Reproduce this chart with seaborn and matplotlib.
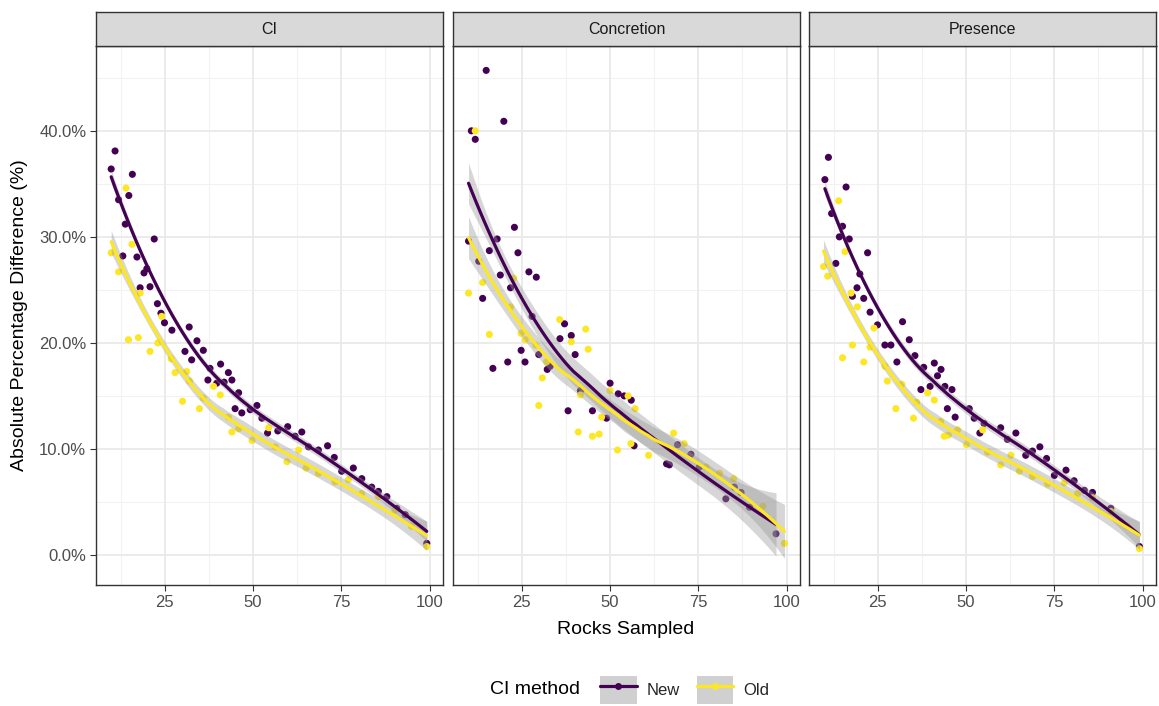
import numpy as np
import pandas as pd
import matplotlib
matplotlib.use("Agg")
import matplotlib.pyplot as plt
import seaborn as sns
from matplotlib.patches import Patch
from matplotlib.lines import Line2D
from matplotlib.legend_handler import HandlerTuple
from matplotlib.ticker import FuncFormatter, FixedLocator

# ---------------- data ----------------
facets = ["CI", "Concretion", "Presence"]
methods = ["New", "Old"]

ci_new_x = [9.8, 10.9, 11.9, 13.1, 13.8, 14.8, 15.8, 17.1, 18.0, 19.1, 19.9, 20.8, 22.0, 22.9, 23.9, 24.9,
            27.0, 30.7, 31.9, 32.6, 34.1, 35.9, 37.2, 37.8, 39.7, 40.8, 41.8, 43.0, 44.0, 44.9, 45.9, 46.8,
            49.2, 51.1, 52.5, 54.1, 57.0, 59.8, 61.9, 63.8, 65.7, 68.5, 71.1, 73.0, 75.1, 78.4, 80.8, 83.6,
            85.5, 87.9, 90.7, 93.1, 99.2]
ci_new_y = [36.4, 38.1, 33.5, 28.2, 31.2, 33.9, 35.9, 28.1, 25.2, 26.6, 27.0, 25.3, 29.8, 23.7, 22.8, 21.9,
            21.2, 19.2, 21.5, 18.4, 20.2, 19.3, 16.5, 17.6, 16.2, 18.0, 16.3, 17.2, 16.5, 13.8, 15.3, 13.4,
            13.7, 14.1, 12.9, 11.5, 11.7, 12.1, 11.2, 11.6, 10.2, 9.9, 10.3, 9.2, 7.9, 8.2, 7.2, 6.4,
            6.0, 5.5, 4.4, 3.8, 1.1]
ci_old_x = [9.8, 11.9, 14.0, 14.7, 15.7, 17.5, 18.0, 20.8, 23.0, 24.1, 26.8, 27.9, 30.0, 31.2, 32.0, 34.8,
            35.9, 38.8, 40.7, 43.0, 44.0, 45.9, 49.7, 54.4, 56.3, 59.6, 62.9, 65.0, 68.5, 73.2, 77.0, 80.8,
            85.5, 90.2, 94.9, 99.2]
ci_old_y = [28.5, 26.7, 34.6, 20.3, 29.3, 20.5, 24.7, 19.2, 20.0, 22.5, 18.5, 17.2, 14.5, 17.3, 16.4, 13.8,
            14.8, 15.9, 15.1, 13.0, 11.6, 11.9, 10.8, 12.0, 10.2, 8.8, 9.9, 8.2, 7.7, 6.9, 7.1, 5.8,
            5.5, 4.2, 2.7, 0.8]

con_new_x = [9.9, 10.7, 11.8, 12.8, 13.9, 14.9, 15.8, 16.8, 18.0, 18.9, 19.9, 21.0, 21.8, 22.9, 23.9, 24.8,
             25.9, 27.0, 27.9, 29.1, 29.8, 32.2, 33.0, 35.8, 37.1, 38.1, 39.0, 40.1, 41.6, 45.0, 49.0, 50.0,
             52.3, 54.0, 56.0, 56.8, 66.0, 66.8, 69.1, 72.9, 75.3, 82.8, 85.2, 87.1, 89.5, 97.0]
con_new_y = [29.6, 40.0, 39.2, 27.7, 24.2, 45.7, 28.7, 17.6, 29.8, 26.4, 40.9, 18.2, 25.2, 30.9, 28.5, 19.3,
             18.2, 26.7, 22.5, 26.2, 18.9, 17.5, 17.8, 20.4, 21.8, 13.6, 20.7, 18.9, 15.5, 13.6, 12.9, 16.2,
             15.2, 15.0, 14.6, 10.3, 8.6, 8.5, 10.4, 9.5, 8.3, 5.3, 6.4, 5.9, 4.5, 2.0]
con_old_x = [9.9, 11.8, 13.9, 15.8, 21.8, 22.7, 24.8, 26.0, 28.9, 29.8, 30.8, 32.0, 35.7, 39.0, 41.0, 41.6,
             43.1, 43.8, 45.0, 46.9, 47.6, 50.0, 52.1, 55.1, 55.9, 57.1, 60.9, 68.0, 71.0, 77.2, 81.0, 85.0,
             93.3, 99.4]
con_old_y = [24.7, 40.0, 25.7, 20.8, 23.4, 26.1, 20.9, 20.3, 19.8, 14.1, 16.7, 18.2, 22.2, 20.1, 11.6, 15.1,
             21.3, 19.4, 11.2, 11.4, 13.0, 15.5, 9.9, 15.0, 10.5, 13.8, 9.4, 11.5, 10.5, 8.3, 7.7, 7.2,
             4.6, 1.1]

pre_new_x = [10.0, 11.0, 11.9, 13.1, 14.1, 15.0, 16.0, 16.9, 17.8, 19.1, 19.9, 21.0, 22.1, 22.8, 24.9, 27.0,
             28.7, 30.4, 32.0, 33.9, 35.5, 37.2, 38.0, 39.8, 41.0, 41.9, 42.9, 44.0, 44.7, 46.0, 46.9, 50.9,
             52.3, 53.9, 55.1, 59.8, 61.7, 64.1, 66.9, 68.8, 70.9, 72.8, 75.0, 78.3, 80.6, 83.5, 85.8, 91.0,
             99.1]
pre_new_y = [35.4, 37.5, 32.2, 27.5, 30.0, 31.0, 34.7, 29.8, 24.4, 25.2, 26.5, 24.2, 28.5, 22.9, 21.7, 19.8,
             19.8, 18.2, 22.0, 20.3, 18.8, 15.6, 17.7, 15.9, 18.1, 16.9, 17.5, 15.9, 13.8, 15.6, 13.0, 13.8,
             12.9, 11.5, 12.4, 12.0, 10.9, 11.5, 9.4, 9.8, 10.2, 9.1, 7.5, 8.0, 7.0, 6.1, 5.9, 4.4,
             0.8]
pre_old_x = [9.6, 10.8, 13.9, 15.0, 15.7, 17.4, 17.8, 19.2, 21.0, 22.8, 23.9, 27.0, 27.7, 30.1, 31.8, 35.1,
             36.0, 39.1, 41.0, 42.8, 43.8, 45.0, 47.6, 50.1, 54.7, 56.1, 59.8, 62.7, 65.1, 68.8, 73.1, 77.8,
             81.6, 85.8, 91.0, 95.7, 99.1]
pre_old_y = [27.2, 26.3, 33.4, 18.6, 28.6, 24.7, 19.8, 23.4, 18.2, 19.6, 21.4, 17.8, 16.4, 13.8, 16.1, 12.9,
             14.4, 15.3, 14.6, 12.6, 11.2, 11.3, 11.8, 10.4, 11.8, 9.7, 8.5, 9.4, 7.9, 7.4, 6.7, 6.8,
             5.8, 5.4, 4.1, 2.7, 0.6]

x_ticks = [25, 50, 75, 100]
y_ticks = [0, 10, 20, 30, 40]

series = {
    ("CI", "New"): (ci_new_x, ci_new_y), ("CI", "Old"): (ci_old_x, ci_old_y),
    ("Concretion", "New"): (con_new_x, con_new_y), ("Concretion", "Old"): (con_old_x, con_old_y),
    ("Presence", "New"): (pre_new_x, pre_new_y), ("Presence", "Old"): (pre_old_x, pre_old_y),
}
rows = []
for (f, m), (xs_, ys_) in series.items():
    for a, b in zip(xs_, ys_):
        rows.append({"facet": f, "method": m, "rocks": a, "diff": b})
df = pd.DataFrame(rows)

palette = {"New": "#440154", "Old": "#FDE725"}


def loess(x, y, grid, span=0.75):
    x = np.asarray(x, float)
    y = np.asarray(y, float)
    n = len(x)
    q = int(np.floor(n * span))

    def row(x0):
        d = np.abs(x - x0)
        h = np.sort(d)[q - 1]
        w = np.clip(1 - (d / h) ** 3, 0, None) ** 3
        X = np.column_stack([np.ones(n), x - x0, (x - x0) ** 2])
        XtW = X.T * w
        return np.linalg.solve(XtW @ X, XtW)[0]

    L = np.array([row(v) for v in x])
    resid = y - L @ y
    sigma = np.sqrt(np.sum(resid ** 2) / (n - np.trace(L)))
    Lg = np.array([row(v) for v in grid])
    return Lg @ y, sigma * np.sqrt(np.sum(Lg ** 2, axis=1))


# ---------------- figure ----------------
sns.set_theme(style="white")
plt.rcParams["font.family"] = ["Liberation Sans", "DejaVu Sans"]

W, H = 1159, 706
fig = plt.figure(figsize=(W / 100, H / 100), dpi=100)
fig.patch.set_facecolor("white")

panel_lefts = [96, 453, 809]
panel_w = 347
p_top, p_bot = 46, 585
strip_top = 12

axes = []
for i, f in enumerate(facets):
    l = panel_lefts[i]
    ax = fig.add_axes([l / W, (H - p_bot) / H, panel_w / W, (p_bot - p_top) / H])
    axes.append(ax)
    ax.set_facecolor("white")
    ax.set_xlim(5.5, 103.8)
    ax.set_ylim(-2.83, 48.0)
    # grid
    for v in [12.5, 37.5, 62.5, 87.5]:
        ax.axvline(v, color="#F2F2F2", lw=0.8, zorder=0)
    for v in [5, 15, 25, 35, 45]:
        ax.axhline(v, color="#F2F2F2", lw=0.8, zorder=0)
    for v in x_ticks:
        ax.axvline(v, color="#EBEBEB", lw=1.4, zorder=0)
    for v in y_ticks:
        ax.axhline(v, color="#EBEBEB", lw=1.4, zorder=0)

    sub = df[df.facet == f]
    sns.scatterplot(data=sub, x="rocks", y="diff", hue="method", hue_order=methods,
                    palette=palette, s=26, edgecolor="none", linewidth=0,
                    ax=ax, legend=False, zorder=3)
    for m in methods:
        s = sub[sub.method == m].sort_values("rocks")
        grid = np.linspace(s.rocks.min(), s.rocks.max(), 80)
        fit, se = loess(s.rocks.values, s["diff"].values, grid, span=0.85)
        ax.fill_between(grid, fit - 0.9 * se, fit + 0.9 * se, color="#999999",
                        alpha=0.4, lw=0, zorder=4)
        sns.lineplot(x=grid, y=fit, color=palette[m], lw=2.3, ax=ax, zorder=5)

    ax.xaxis.set_major_locator(FixedLocator(x_ticks))
    ax.yaxis.set_major_locator(FixedLocator(y_ticks))
    ax.yaxis.set_major_formatter(FuncFormatter(lambda v, p: f"{v:.1f}%"))
    ax.tick_params(axis="both", which="major", length=4, width=0.8, color="#333333",
                   labelsize=12, labelcolor="#4D4D4D", direction="out", pad=3,
                   bottom=True, left=True)
    if i > 0:
        ax.tick_params(axis="y", labelleft=False, left=False)
    ax.set_xlabel("")
    ax.set_ylabel("")
    for sp in ax.spines.values():
        sp.set_color("#333333")
        sp.set_linewidth(1.0)
        sp.set_visible(True)

    # strip
    sax = fig.add_axes([l / W, (H - p_top) / H, panel_w / W, (p_top - strip_top) / H])
    sax.set_facecolor("#D9D9D9")
    sax.set_xticks([])
    sax.set_yticks([])
    for sp in sax.spines.values():
        sp.set_color("#333333")
        sp.set_linewidth(1.0)
    sax.text(0.5, 0.5, f, ha="center", va="center", fontsize=11.5, color="#1A1A1A",
             transform=sax.transAxes)

fig.text(20 / W, 1 - ((p_top + p_bot) / 2) / H, "Absolute Percentage Difference (%)",
         rotation=90, ha="center", va="center", fontsize=14, color="black")
fig.text((96 + 1155) / 2 / W, 1 - 629 / H, "Rocks Sampled", ha="center", va="center",
         fontsize=14, color="black")

# legend
fig.text(535 / W, 1 - 690 / H, "CI method", ha="center", va="center", fontsize=14, color="black")
handles = []
for m in methods:
    handles.append((Patch(facecolor="#D0D0D0", edgecolor="none"),
                    Line2D([0], [0], color=palette[m], lw=2.3, marker="o", ms=5,
                           markeredgewidth=0)))
leg = fig.legend(handles=handles, labels=methods, loc="center left",
                 bbox_to_anchor=(600 / W, 1 - 690 / H), ncol=2, frameon=False,
                 handler_map={tuple: HandlerTuple(ndivide=1)},
                 handlelength=2.2, handleheight=2.2, handletextpad=0.6,
                 columnspacing=1.0, fontsize=12, borderpad=0, borderaxespad=0)

fig.savefig("out.png", dpi=100, facecolor="white")
